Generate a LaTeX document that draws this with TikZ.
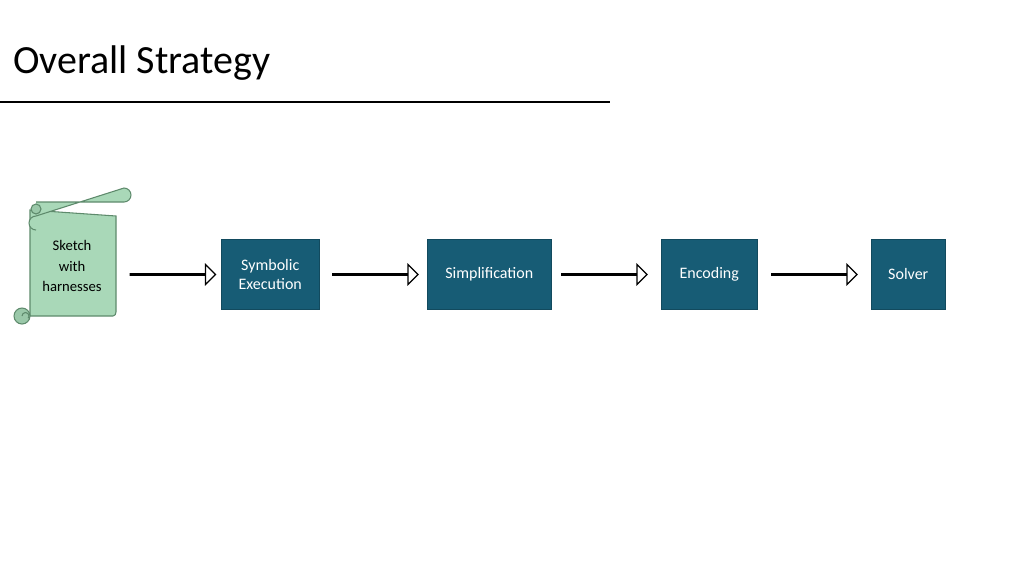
\documentclass[tikz,border=0pt]{standalone}
\usepackage{fontspec}
\setmainfont{Carlito}
\usetikzlibrary{shapes.arrows}
\definecolor{boxc}{HTML}{175C75}
\definecolor{scr}{HTML}{A9D8B8}
\definecolor{scrd}{HTML}{5E8A6C}
\tikzset{x=0.75pt,y=-0.75pt,
 stepbox/.style={fill=boxc,draw=boxc!80!black,text=white,font=\fontsize{12}{14.5}\selectfont,align=center,inner sep=0pt,anchor=north west},
 blockarrow/.style={single arrow,draw=black,fill=white,line width=0.9pt,minimum height=64pt,minimum width=28pt,single arrow head extend=6pt,single arrow tip angle=90,inner sep=0pt,shape border uses incircle=false}}
\begin{document}
\begin{tikzpicture}
\useasboundingbox (0,0) rectangle (1024,576);
\node[anchor=base west,inner sep=0pt,font=\fontsize{30}{34}\selectfont] (title) at (13,73) {Overall Strategy};
\draw[line width=2.2pt] (0,102) -- (610,102);
% scroll
\begin{scope}[draw=scrd,line width=0.8pt]
\filldraw[fill=scr] (30,210) -- (30,316) -- (113,316) to[out=0,in=-90] (116,312) -- (116,216) -- cycle;
\filldraw[fill=scr] (36,202) -- (124,202) arc[start angle=90,end angle=-90,radius=7] -- (36,216) arc[start angle=-90,end angle=-270,radius=7];
\filldraw[fill=scr!80!scrd] (36,209) circle[radius=5];
\filldraw[fill=scr!80!scrd] (22,316) circle[radius=8];
\draw (22,316) arc[start angle=180,end angle=400,radius=3.5];
\end{scope}
\node[align=center,font=\fontsize{11}{15.5}\selectfont] (sketch) at (72,266) {Sketch\\with\\harnesses};
\node[stepbox,minimum width=73.5pt,minimum height=52.5pt] (sym) at (221,239) {Symbolic\\Execution};
\node[stepbox,minimum width=93pt,minimum height=52.5pt] (simp) at (427,239) {Simplification};
\node[stepbox,minimum width=72pt,minimum height=52.5pt] (enc) at (661,239) {Encoding};
\node[stepbox,minimum width=55.5pt,minimum height=52.5pt] (sol) at (871,239) {Solver};
\node[blockarrow,minimum width=15pt] (a1) at (172.5,274.5) {};
\node[blockarrow,minimum width=15pt] (a2) at (375,274.5) {};
\node[blockarrow,minimum width=15pt] (a3) at (604,274.5) {};
\node[blockarrow,minimum width=15pt] (a4) at (814,274.5) {};
\end{tikzpicture}
\end{document}
